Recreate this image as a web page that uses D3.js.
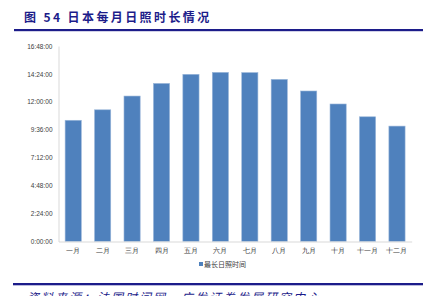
<!DOCTYPE html>
<html>
<head>
<meta charset="utf-8">
<script src="https://cdn.jsdelivr.net/npm/d3@7"></script>
<style>
  body { margin: 0; background: #fff; }
  svg { display: block; font-family: "Noto Sans CJK SC", "Liberation Sans", sans-serif; }
</style>
</head>
<body>
<div id="chart"></div>
<script>
// months and longest daylight per month (h:mm)
const months = ['一月', '二月', '三月', '四月', '五月', '六月', '七月', '八月', '九月', '十月', '十一月', '十二月'];
const daylight = ['10:25', '11:19', '12:30', '13:35', '14:22', '14:32', '14:31', '13:56', '12:56', '11:49', '10:43', '9:55'];
const yTicks = ['0:00:00', '2:24:00', '4:48:00', '7:12:00', '9:36:00', '12:00:00', '14:24:00', '16:48:00'];
const seriesName = '最长日照时间';

const width = 438, height = 296;
const navy = '#1c1c8a';

const toMin = s => { const p = s.split(':').map(Number); return p[0] * 60 + p[1]; };
const data = months.map((m, i) => ({ month: m, value: toMin(daylight[i]) }));

const svg = d3.select('#chart').append('svg')
  .attr('width', width)
  .attr('height', height);

// title + rule
svg.append('text')
  .attr('x', 24).attr('y', 21.5)
  .attr('fill', navy)
  .attr('font-size', 12).attr('font-weight', 'bold')
  .attr('letter-spacing', 2.4)
  .text('图 54 日本每月日照时长情况');
svg.append('rect').attr('x', 14).attr('y', 29).attr('width', 409).attr('height', 2.2).attr('fill', navy);

const x = d3.scaleBand()
  .domain(months)
  .range([58.5, 411.7])
  .paddingInner(0.45)
  .paddingOuter(0.225);

const y = d3.scaleLinear()
  .domain([0, toMin('16:48')])
  .range([241.5, 46]);

// y axis
const gy = svg.append('g')
  .attr('transform', `translate(${x.range()[0]},0)`)
  .call(d3.axisLeft(y).tickValues(yTicks.map(toMin)).tickSize(0).tickPadding(6)
    .tickFormat((d, i) => yTicks[i]));
gy.select('.domain').attr('stroke', '#d9d9d9');
gy.selectAll('text').attr('font-family', 'Liberation Sans, sans-serif').attr('font-size', 6.5).attr('fill', '#404040');

// bars
svg.append('g')
  .selectAll('rect')
  .data(data)
  .enter().append('rect')
    .attr('x', d => x(d.month))
    .attr('y', d => y(d.value))
    .attr('width', x.bandwidth())
    .attr('height', d => y(0) - y(d.value))
    .attr('fill', '#4f81bd')
    .attr('stroke', '#9bb7da')
    .attr('stroke-width', 0.6);

// x axis
const gx = svg.append('g')
  .attr('transform', `translate(0,${y(0)})`)
  .call(d3.axisBottom(x).tickSize(0).tickPadding(7));
gx.select('.domain').attr('stroke', '#d9d9d9');
gx.selectAll('text').attr('font-size', 7).attr('fill', '#404040');

// legend
const lg = svg.append('g').attr('transform', 'translate(199,262)');
lg.append('rect').attr('width', 4).attr('height', 4).attr('fill', '#4f81bd');
lg.append('text').attr('x', 5).attr('y', 4.5).attr('font-size', 7).attr('fill', '#404040').text(seriesName);

// bottom rule + source
svg.append('rect').attr('x', 13).attr('y', 283).attr('width', 410).attr('height', 2.3).attr('fill', navy);
svg.append('text')
  .attr('x', 27).attr('y', 302)
  .attr('fill', navy)
  .attr('font-size', 12)
  .attr('font-style', 'italic')
  .attr('letter-spacing', 2)
  .text('资料来源：法国时间网，广发证券发展研究中心');
</script>
</body>
</html>
